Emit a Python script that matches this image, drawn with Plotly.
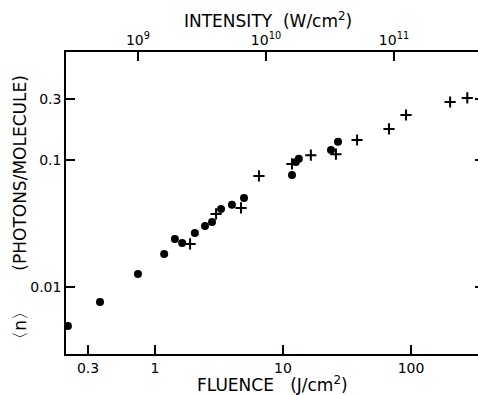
import plotly.graph_objects as go

# ---- data ----
dot_fluence = [0.209, 0.372, 0.736, 1.18, 1.43, 1.63, 2.05, 2.46, 2.79, 3.28, 3.99, 4.96,
               11.75, 12.6, 13.3, 23.7, 26.9]
dot_n = [0.00493, 0.0076, 0.01265, 0.0182, 0.0239, 0.0222, 0.0266, 0.0302, 0.0325, 0.0411,
         0.0443, 0.0502, 0.0762, 0.0964, 0.102, 0.120, 0.139]

plus_fluence = [1.88, 3.0, 4.7, 6.49, 11.75, 16.5, 25.9, 37.9, 67.3, 91.4, 202, 275]
plus_n = [0.0218, 0.0376, 0.0419, 0.0748, 0.093, 0.109, 0.111, 0.1436, 0.1755, 0.226,
          0.286, 0.308]

x_ticks = [0.3, 1, 10, 100]
x_ticktext = ["0.3", "1", "10", "100"]
y_ticks = [0.01, 0.1, 0.3]
y_ticktext = ["0.01", "0.1", "0.3"]
top_ticks = [1e9, 1e10, 1e11]
top_ticktext = ["10<sup>9</sup>", "10<sup>10</sup>", "10<sup>11</sup>"]

INTENSITY_PER_FLUENCE_LOG = 9.133  # log10 of (W/cm^2) per (J/cm^2)

X_RANGE = [-0.695, 2.523]
Y_RANGE = [-2.528, -0.150]

FONT = "DejaVu Sans"

fig = go.Figure()
fig.add_trace(go.Scatter(x=dot_fluence, y=dot_n, mode="markers",
                         marker=dict(symbol="circle", size=8, color="black"),
                         cliponaxis=False, showlegend=False))
fig.add_trace(go.Scatter(x=plus_fluence, y=plus_n, mode="markers",
                         marker=dict(symbol="cross-thin", size=8,
                                     line=dict(width=2, color="black")),
                         cliponaxis=False, showlegend=False))
# invisible trace to carry the top (intensity) axis and the right tick axis
fig.add_trace(go.Scatter(x=[f * 10 ** INTENSITY_PER_FLUENCE_LOG for f in plus_fluence],
                         y=plus_n, xaxis="x2", yaxis="y2", mode="markers",
                         marker=dict(opacity=0), hoverinfo="skip", showlegend=False))

tickfont = dict(family=FONT, size=14, color="black")
fig.update_layout(
    width=478, height=395,
    margin=dict(l=66, r=0, t=52, b=41),
    paper_bgcolor="white", plot_bgcolor="white",
    xaxis=dict(type="log", range=X_RANGE, tickvals=x_ticks, ticktext=x_ticktext,
               ticks="inside", ticklen=9, tickwidth=1.5, tickcolor="black",
               showline=True, linecolor="black", linewidth=1.5,
               showgrid=False, zeroline=False, tickfont=tickfont),
    yaxis=dict(type="log", range=Y_RANGE, tickvals=y_ticks, ticktext=y_ticktext,
               ticks="inside", ticklen=9, tickwidth=1.5, tickcolor="black",
               showline=True, linecolor="black", linewidth=1.5,
               showgrid=False, zeroline=False, tickfont=tickfont),
    xaxis2=dict(type="log", overlaying="x", side="top", anchor="y",
                range=[X_RANGE[0] + INTENSITY_PER_FLUENCE_LOG, X_RANGE[1] + INTENSITY_PER_FLUENCE_LOG],
                tickvals=top_ticks, ticktext=top_ticktext,
                ticks="inside", ticklen=9, tickwidth=1.5, tickcolor="black",
                showline=True, linecolor="black", linewidth=1.5,
                showgrid=False, zeroline=False, tickfont=tickfont),
    yaxis2=dict(type="log", overlaying="y", side="right", anchor="x2", range=Y_RANGE,
                tickvals=y_ticks, showticklabels=False,
                ticks="inside", ticklen=3, tickwidth=1.5, tickcolor="black",
                showline=False, showgrid=False, zeroline=False),
    annotations=[
        dict(text="INTENSITY\u00a0\u00a0(W/cm<sup>2</sup>)", xref="paper", yref="paper",
             x=0.49, y=1.106, xanchor="center", yanchor="middle", showarrow=False,
             font=dict(family=FONT, size=17, color="black")),
        dict(text="FLUENCE\u00a0\u00a0\u00a0(J/cm<sup>2</sup>)", xref="paper", yref="paper",
             x=0.502, y=-0.098, xanchor="center", yanchor="middle", showarrow=False,
             font=dict(family=FONT, size=17, color="black")),
        dict(text="\u3008n\u3009" + "\u00a0" * 6 + "(PHOTONS/MOLECULE)",
             xref="paper", yref="paper", x=-0.112, y=0.4735, textangle=-90,
             xanchor="center", yanchor="middle", showarrow=False,
             font=dict(family=FONT, size=17, color="black")),
    ],
)

fig.write_html("out.html", config={"displayModeBar": False},
               post_script="document.body.style.margin='0px';")
